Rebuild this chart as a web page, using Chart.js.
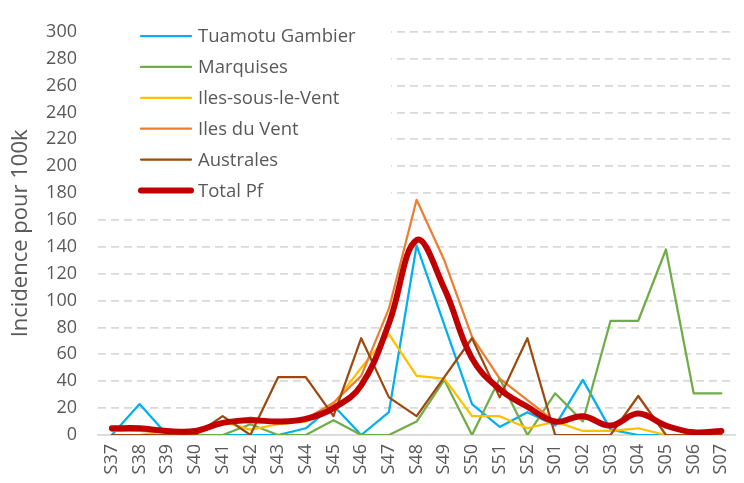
<!DOCTYPE html>
<html>
<head>
<meta charset="utf-8">
<script src="https://cdn.jsdelivr.net/npm/chart.js@4"></script>
<style>
  html, body { margin: 0; padding: 0; background: #fff; overflow: hidden; }
  #wrap { width: 752px; height: 483px; }
</style>
</head>
<body>
<div id="wrap"><canvas id="incChart" width="752" height="483"></canvas></div>
<script>
// weeks (epi weeks, end of year -> start of next)
const weeks = ['S37','S38','S39','S40','S41','S42','S43','S44','S45','S46','S47','S48',
               'S49','S50','S51','S52','S01','S02','S03','S04','S05','S06','S07'];

// incidence per 100k
const tuamotuGambier = [0,23,0,0,0,0,0,5,22,0,17,141,82,23,6,17,7,41,4,0,0,0,0];
const marquises      = [0,0,0,0,0,8,0,0,11,0,0,10,41,0,42,0,31,10,85,85,138,31,31];
const ilesSousLeVent = [0,0,3,3,10,4,8,10,23,50,75,44,42,14,14,5,10,3,3,5,0,0,0];
const ilesDuVent     = [3,3,2,2,8,13,10,12,24,44,94,175,130,73,42,26,10,14,7,16,6,2,2];
const australes      = [0,0,0,0,14,0,43,43,14,72,28,14,43,72,28,72,0,0,0,29,0,0,0];
const totalPf        = [5,5,3,3,9,11,10,12,20,37,83,145,109,57,34,21,10,14,7,16,7,2,3];

const yTicks = [0,20,40,60,80,100,120,140,160,180,200,220,240,260,280,300];

const textColor = '#595959';
const gridColor = '#d9d9d9';

function series(label, data, color, width, order, smooth) {
  return {
    label: label,
    data: data,
    borderColor: color,
    backgroundColor: color,
    borderWidth: width,
    pointRadius: 0,
    tension: smooth ? 0.4 : 0,
    borderCapStyle: 'round',
    borderJoinStyle: 'round',
    order: order
  };
}

// legend drawn inside the plot, on a white box like the original
const innerLegend = {
  id: 'innerLegend',
  beforeDatasetsDraw(chart) {
    const ctx = chart.ctx;
    const area = chart.chartArea;
    ctx.save();
    ctx.fillStyle = '#fff';
    ctx.fillRect(area.left, 23, 293, 182);
    ctx.font = '18.5px "Open Sans"';
    ctx.textBaseline = 'middle';
    chart.data.datasets.forEach((ds, i) => {
      const y = 36 + i * 30.9;
      ctx.strokeStyle = ds.borderColor;
      ctx.lineWidth = ds.borderWidth;
      ctx.lineCap = 'round';
      ctx.beginPath();
      ctx.moveTo(141, y);
      ctx.lineTo(191, y);
      ctx.stroke();
      ctx.fillStyle = textColor;
      ctx.fillText(ds.label, 198, y + 1);
    });
    ctx.restore();
  }
};

new Chart(document.getElementById('incChart'), {
  type: 'line',
  data: {
    labels: weeks,
    datasets: [
      series('Tuamotu Gambier', tuamotuGambier, '#00b0f0', 2.25, 5, false),
      series('Marquises', marquises, '#70ad47', 2.25, 4, false),
      series('Iles-sous-le-Vent', ilesSousLeVent, '#ffc000', 2.25, 3, false),
      series('Iles du Vent', ilesDuVent, '#ed7d31', 2.25, 2, false),
      series('Australes', australes, '#9e480e', 2.25, 1, false),
      series('Total Pf', totalPf, '#c00000', 6, 0, true)
    ]
  },
  options: {
    responsive: false,
    animation: false,
    layout: { padding: { top: 17, right: 2, left: 0, bottom: 0 } },
    plugins: {
      legend: { display: false },
      tooltip: { enabled: false }
    },
    scales: {
      x: {
        offset: true,
        grid: { display: false, drawTicks: false },
        border: { display: true, color: gridColor, width: 1.5 },
        ticks: {
          color: textColor,
          font: { family: 'Open Sans', size: 18 },
          minRotation: 90,
          maxRotation: 90,
          autoSkip: false,
          padding: 9
        },
        afterFit(scale) { scale.height = 48; }
      },
      y: {
        min: 0,
        max: 300,
        afterBuildTicks(scale) { scale.ticks = yTicks.map(v => ({ value: v })); },
        grid: { color: gridColor, lineWidth: 1.75, drawTicks: false },
        border: { display: false, dash: ctx => (ctx.tick && ctx.tick.value === 0 ? [] : [8, 5]) },
        ticks: {
          color: textColor,
          font: { family: 'Open Sans', size: 18 },
          padding: 21
        },
        title: {
          display: true,
          text: 'Incidence pour 100k',
          color: textColor,
          font: { family: 'Open Sans', size: 22 },
          padding: { top: 8, bottom: 0 }
        },
        afterFit(scale) { scale.width = 98; }
      }
    }
  },
  plugins: [innerLegend]
});
</script>
</body>
</html>
